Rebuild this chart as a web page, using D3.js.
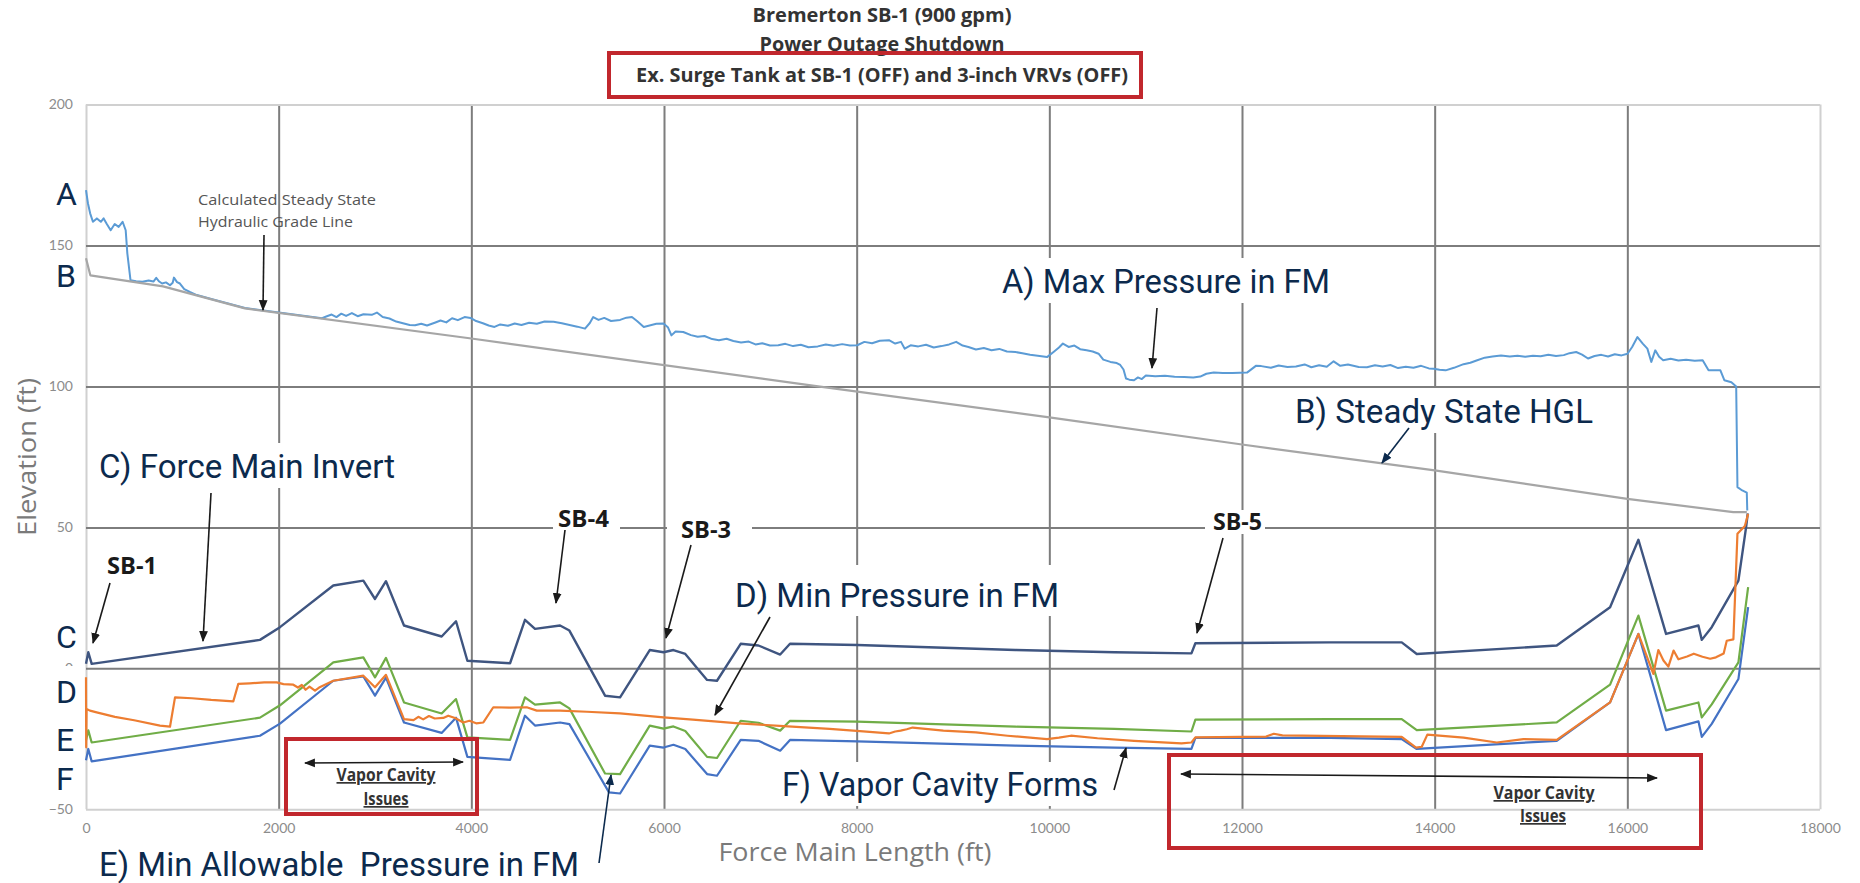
<!DOCTYPE html>
<html>
<head>
<meta charset="utf-8">
<script src="https://cdn.jsdelivr.net/npm/d3@7"></script>
<style>
  body { margin: 0; background: #fff; }
  svg { display: block; }
</style>
</head>
<body>
<svg></svg>
<script>
const width = 1860;
const height = 883;

// axis ticks
const xTicks = [0, 2000, 4000, 6000, 8000, 10000, 12000, 14000, 16000, 18000];
const yTicks = [-50, 0, 50, 100, 150, 200];

// [force main length (ft), elevation (ft)]
const maxPressure = [
  [0,169.6],[20,165],[43,161.4],[72,158.4],[113,159.6],[154,158.4],[183,159.6],[216,157.6],[256,155.4],
  [298,157.6],[339,156.6],[380,158.4],[412,155.4],[429,147.2],[462,137.7],[520,137.3],[585,137.1],[650,137.6],
  [700,137.2],[729,138.5],[760,137.2],[790,136.5],[830,136.9],[872,135.9],[900,136.8],[913,138.6],[945,137],
  [975,136.5],[1020,134.5],[1077,133.5],[1150,132.4],[1300,131],[1650,127.8],[2000,126.2],[2450,124.2],
  [2494,124.8],[2550,125.5],[2600,124.6],[2650,125.8],[2700,125],[2760,126],[2820,124.9],[2880,125.6],
  [2966,125.4],[3020,126.2],[3080,124.6],[3150,124.1],[3220,123],[3300,122.3],[3360,121.8],[3416,121.7],
  [3480,122.2],[3540,121.6],[3620,122.6],[3680,123.4],[3740,122.7],[3800,124.2],[3860,123.5],[3930,124.6],
  [3992,124.3],[4050,123.2],[4120,122.4],[4180,121.6],[4240,121.1],[4300,122],[4380,121.5],[4450,122.3],
  [4520,121.8],[4600,122.6],[4680,122.2],[4760,123],[4854,122.9],[4940,122.4],[5020,121.8],[5100,121.2],
  [5180,120.5],[5230,122.5],[5265,124.6],[5320,123.6],[5380,124.3],[5450,123.2],[5544,123.6],[5610,124.4],
  [5667,124.6],[5720,123.2],[5790,121.1],[5850,121.6],[5920,122.2],[5995,122.3],[6040,121],[6077,118.1],
  [6120,119.5],[6200,119.3],[6280,118.2],[6350,117.6],[6420,117.9],[6500,116.8],[6570,116.4],[6650,116.9],
  [6720,116.1],[6800,115.6],[6880,115.9],[6950,114.9],[7020,115.3],[7100,114.5],[7186,114.6],[7260,115.1],
  [7340,114.3],[7420,114.8],[7500,113.9],[7596,114.2],[7680,114.9],[7760,114.4],[7850,115],[7930,114.5],
  [8006,114.6],[8080,115.8],[8160,115.3],[8240,116.2],[8335,116.4],[8400,115.2],[8460,115.8],[8499,113.4],
  [8560,114.6],[8640,114.2],[8720,114.8],[8800,113.8],[8880,114.3],[8960,114.9],[9033,115.8],[9100,114.5],
  [9160,114],[9238,113.1],[9320,113.6],[9400,112.8],[9480,113.3],[9560,112.4],[9648,112.2],[9720,111.8],
  [9800,111.2],[9880,110.9],[9976,110.4],[10050,112.4],[10100,113.8],[10141,115.2],[10200,114],[10260,114.5],
  [10320,113.2],[10387,112.8],[10450,112.4],[10511,111.6],[10560,109.5],[10634,108.7],[10700,108.3],
  [10736,107.6],[10770,106],[10796,102.8],[10830,102.4],[10879,102.2],[10920,103.2],[10960,102.6],
  [11002,103.9],[11100,103.6],[11200,103.8],[11300,103.4],[11400,103.3],[11494,103.2],[11567,103.5],
  [11630,104.5],[11706,104.9],[11800,104.8],[11900,104.8],[12052,104.9],[12144,107.3],[12200,107.2],
  [12300,106.6],[12380,107.4],[12472,106.9],[12560,107.1],[12650,107.8],[12720,106.8],[12800,107.5],
  [12880,107],[12951,108.9],[13020,107.3],[13100,107.8],[13211,106.9],[13297,106.8],[13380,107.5],
  [13460,107.1],[13540,107.6],[13620,106.5],[13700,107],[13780,106.6],[13860,107.3],[13940,106.4],
  [13990,106.3],[14050,105.9],[14114,105.7],[14200,106.6],[14300,107.9],[14370,108.4],[14442,109.3],
  [14520,110.2],[14600,110.6],[14689,111],[14780,110.6],[14860,110.9],[14940,110.5],[15020,110.9],
  [15100,110.7],[15180,111.2],[15260,110.8],[15340,111.1],[15400,111.8],[15469,112.2],[15530,111.3],
  [15592,109.9],[15660,110.8],[15730,111.2],[15800,110.6],[15870,111.4],[15940,111],[16002,111.6],
  [16050,114],[16105,117.5],[16160,115.2],[16208,113.4],[16249,108.7],[16290,112.8],[16330,110.5],
  [16372,109.3],[16450,109.8],[16530,109.2],[16610,109.5],[16700,109.1],[16782,109.3],[16843,105.7],
  [16966,105.7],[17007,102.2],[17080,101.5],[17130,100],[17143,64.3],[17193,63.1],[17240,62.3],[17245,56]
];

const steadyHGL = [
  [0,145.5],[45,139.4],[800,135.5],[1650,127.7],[4000,117],[7600,100],[10000,89],[12000,79.4],
  [14000,70.2],[16000,60.1],[17100,55.4],[17240,55.4]
];

const invert = [
  [0,1.6],[24,5.7],[59,1.6],[1806,10.1],[2014,14.6],[2567,29.4],[2879,31.1],[3000,24.6],[3114,30.9],
  [3301,15.2],[3692,11.3],[3841,16.7],[3959,2.7],[4402,1.8],[4557,17.2],[4661,14],[4921,15.2],[5018,13.4],
  [5388,-9.7],[5544,-10.3],[5852,6.5],[5995,5.7],[6098,6.5],[6221,5.1],[6447,-4.1],[6550,-4.4],[6796,8.7],
  [6980,8.1],[7206,4.9],[7308,8.7],[8006,8.3],[9648,6.5],[10675,5.7],[11475,5.3],[11516,8.9],[12914,9.2],
  [13658,9.2],[13814,5.1],[15267,8.1],[15821,21.7],[16115,45.6],[16402,12.2],[16738,15.2],[16773,10.1],
  [16876,14.6],[17153,31.1],[17233,50.1],[17250,55]
];

const minPressure = [
  [0,-3.2],[2,-28],[6,-14.4],[41,-15],[111,-15.6],[300,-17.2],[500,-18.4],[768,-20.3],[872,-20.7],
  [924,-10.3],[1100,-10.6],[1300,-11.2],[1529,-11.7],[1581,-5.5],[1700,-5.3],[1850,-5],[1980,-5],[2050,-5.6],
  [2152,-5.8],[2200,-6.8],[2240,-5.9],[2280,-7.6],[2320,-6.5],[2377,-7.9],[2420,-6.8],[2567,-4.4],[2879,-2.6],
  [3000,-6.7],[3114,-2.3],[3301,-18],[3400,-18.4],[3450,-17.2],[3500,-18.1],[3560,-16.9],[3620,-17.8],
  [3709,-17.6],[3760,-16.8],[3831,-17.6],[3917,-19.2],[3980,-18.6],[4050,-19.5],[4125,-19.2],[4228,-13.8],
  [4400,-13.9],[4575,-13.8],[4679,-15],[4921,-15],[5200,-15.4],[5544,-16],[5995,-17.4],[6300,-18.2],
  [6775,-19.5],[7200,-20.4],[7719,-21.5],[8000,-22.2],[8335,-23.1],[8400,-22.4],[8457,-22.1],[8520,-21.6],
  [8581,-21],[8900,-22.1],[9238,-22.7],[9566,-23.9],[9976,-25.1],[10100,-24.6],[10223,-23.9],[10500,-24.8],
  [10879,-25.7],[11372,-26.6],[11475,-26.3],[11516,-24.5],[11980,-24.3],[12250,-24.2],[12330,-23.2],
  [12420,-23.8],[13658,-24.3],[13807,-28.1],[13866,-27.8],[13924,-23.5],[14300,-24.6],[14645,-26.3],
  [14921,-25.1],[15267,-25.4],[15821,-12.1],[16115,12.2],[16270,-2],[16322,6.5],[16375,2.8],[16426,0.6],
  [16480,6.3],[16530,3.2],[16620,4.2],[16690,5.2],[16780,4.1],[16860,3.4],[16920,3.9],[17000,5.3],
  [17032,9.8],[17101,10.3],[17143,47.7],[17220,50.5],[17254,54.8]
];

const minAllowable = [
  [0,-25.5],[24,-22],[59,-26.3],[1806,-17.5],[2014,-13.1],[2567,2.1],[2879,3.9],[3000,-3.2],[3114,3.7],
  [3301,-12.1],[3692,-16],[3841,-10.9],[3959,-24.5],[4402,-25.4],[4557,-10.3],[4661,-12.9],[4921,-12.1],
  [5018,-14.2],[5388,-37.3],[5544,-37.5],[5852,-20.3],[5995,-21.4],[6098,-20.6],[6221,-22.2],[6447,-31.4],
  [6550,-31.8],[6796,-18.6],[6980,-19.3],[7206,-22.1],[7308,-18.6],[8006,-18.9],[9648,-20.7],[10675,-21.5],
  [11475,-22.4],[11516,-18.2],[12914,-18],[13658,-18],[13814,-21.9],[15267,-19.2],[15821,-5.8],[16115,18.7],
  [16402,-15],[16738,-12.1],[16773,-17.4],[16876,-12.8],[17153,2.1],[17254,28.8]
];

const vaporCavity = [
  [0,-32.6],[24,-28.6],[59,-33],[1806,-23.9],[2014,-19.6],[2567,-4.4],[2879,-2.9],[3000,-9.7],[3114,-3.3],
  [3301,-19.2],[3692,-22.9],[3841,-17.5],[3959,-31.4],[4402,-32.5],[4557,-16.8],[4661,-20.3],[4921,-19.2],
  [5018,-19.8],[5429,-44],[5544,-44.4],[5852,-27.4],[5995,-28.1],[6098,-27.1],[6221,-28.6],[6447,-37.5],
  [6550,-38.1],[6796,-25.4],[6980,-25.7],[7206,-29.2],[7308,-25.4],[8006,-25.9],[9648,-27.4],[10675,-28.1],
  [11475,-28.6],[11516,-24.7],[12914,-24.7],[13658,-25.1],[13814,-28.6],[15267,-25.7],[15821,-12.1],
  [16115,12.2],[16402,-21.9],[16738,-18.8],[16773,-24.3],[16876,-19.7],[17153,-3.8],[17254,21.7]
];

const titleLines = ['Bremerton SB-1 (900 gpm)', 'Power Outage Shutdown', 'Ex. Surge Tank at SB-1 (OFF) and 3-inch VRVs (OFF)'];

const navy = '#0c2a4d';
const svg = d3.select('svg').attr('width', width).attr('height', height);

const x = d3.scaleLinear().domain([0, 18000]).range([86, 1820]);
const y = d3.scaleLinear().domain([-50, 200]).range([809.3, 104.5]);

const createDefs = () => {
  const defs = svg.append('defs');
  [['arrBlack', '#1a1a1a'], ['arrNavy', navy]].forEach(([id, c]) => {
    defs.append('marker')
      .attr('id', id)
      .attr('viewBox', '0 0 10 10')
      .attr('refX', 9).attr('refY', 5)
      .attr('markerWidth', 11).attr('markerHeight', 11)
      .attr('markerUnits', 'userSpaceOnUse')
      .attr('orient', 'auto-start-reverse')
      .append('path').attr('d', 'M0,1L10,5L0,9Z').attr('fill', c);
  });
}

const createAxis = () => {
  const plotH = y(-50) - y(200);
  const plotW = x(18000) - x(0);

  const xAxis = d3.axisBottom(x).tickValues(xTicks).tickSize(-plotH).tickPadding(14).tickFormat(d3.format('d'));
  const yAxis = d3.axisLeft(y).tickValues(yTicks).tickSize(-plotW).tickPadding(13);

  svg.append('g')
    .attr('transform', 'translate(0,' + y(-50) + ')')
    .call(xAxis)
    .call(g => g.select('.domain').remove())
    .call(g => g.selectAll('.tick line')
      .attr('stroke', d => (d === 0 || d === 18000) ? '#d0d0d0' : '#7d7d7d')
      .attr('stroke-width', 2))
    .call(g => g.selectAll('.tick text').attr('fill', '#8c8c8c').style('font', '14px Lato'));

  svg.append('g')
    .attr('transform', 'translate(' + x(0) + ',0)')
    .call(yAxis)
    .call(g => g.select('.domain').remove())
    .call(g => g.selectAll('.tick line')
      .attr('stroke', d => (d === -50 || d === 200) ? '#d0d0d0' : '#7d7d7d')
      .attr('stroke-width', 2))
    .call(g => g.selectAll('.tick text').attr('fill', '#8c8c8c').style('font', '14px Lato'));

  svg.append('text')
    .attr('transform', 'translate(36,457) rotate(-90)')
    .attr('text-anchor', 'middle')
    .attr('fill', '#7a7a7a')
    .attr('textLength', 158)
    .attr('lengthAdjust', 'spacingAndGlyphs')
    .style('font', '26px "Open Sans"')
    .text('Elevation (ft)');

  svg.append('text')
    .attr('x', 855).attr('y', 861)
    .attr('text-anchor', 'middle')
    .attr('fill', '#7a7a7a')
    .attr('textLength', 273)
    .attr('lengthAdjust', 'spacingAndGlyphs')
    .style('font', '26px "Open Sans"')
    .text('Force Main Length (ft)');
}

// white patches the labels sit on (they cut the grid lines)
const createLabelBacks = () => {
  const backs = [
    [995, 258, 340, 45], [1290, 388, 310, 45], [95, 443, 305, 45], [728, 565, 337, 51],
    [760, 762, 348, 44], [553, 505, 67, 26], [667, 518, 85, 23], [1205, 510, 60, 24], [50, 666, 32, 40]
  ];
  svg.append('g').selectAll('rect')
    .data(backs)
    .enter()
    .append('rect')
    .attr('x', d => d[0]).attr('y', d => d[1])
    .attr('width', d => d[2]).attr('height', d => d[3])
    .attr('fill', '#fff');
}

const createLines = () => {
  const line = d3.line().x(d => x(d[0])).y(d => y(d[1]));
  const series = [
    [maxPressure, '#5b9bd5', 2],
    [steadyHGL, '#a6a6a6', 2.2],
    [invert, '#3f5580', 2.4],
    [vaporCavity, '#4472c4', 2.2],
    [minAllowable, '#70ad47', 2.2],
    [minPressure, '#ed7d31', 2.2]
  ];
  svg.append('g').selectAll('path')
    .data(series)
    .enter()
    .append('path')
    .attr('d', d => line(d[0]))
    .attr('fill', 'none')
    .attr('stroke', d => d[1])
    .attr('stroke-width', d => d[2])
    .attr('stroke-linejoin', 'round');
}

const createTitle = () => {
  const t = svg.append('g')
    .attr('text-anchor', 'middle')
    .attr('fill', '#333')
    .style('font', 'bold 20px "Open Sans"');
  const lines = [[22, 259], [51, 245], [82, 492]];
  lines.forEach((l, i) => {
    t.append('text')
      .attr('x', 882).attr('y', l[0])
      .attr('textLength', l[1])
      .attr('lengthAdjust', 'spacingAndGlyphs')
      .text(titleLines[i]);
  });
}

const createBoxes = () => {
  const boxes = [[609, 53, 532, 44], [286, 739, 191, 75], [1169, 755, 532, 93]];
  svg.append('g').selectAll('rect')
    .data(boxes)
    .enter()
    .append('rect')
    .attr('x', d => d[0]).attr('y', d => d[1])
    .attr('width', d => d[2]).attr('height', d => d[3])
    .attr('fill', 'none')
    .attr('stroke', '#c1272d')
    .attr('stroke-width', 4);
}

const createAnnotations = () => {
  // letters at the left
  const letters = [['A', 205], ['B', 287], ['C', 648], ['D', 703], ['E', 751], ['F', 790]];
  svg.append('g').selectAll('text')
    .data(letters)
    .enter()
    .append('text')
    .attr('x', 56).attr('y', d => d[1])
    .attr('fill', navy)
    .style('font', '32px Roboto')
    .text(d => d[0]);

  const callouts = [
    ['A) Max Pressure in FM', 1002, 293, 328],
    ['B) Steady State HGL', 1295, 423, 298],
    ['C) Force Main Invert', 99, 478, 296],
    ['D) Min Pressure in FM', 735, 607, 324],
    ['E) Min Allowable  Pressure in FM', 99, 876, 480],
    ['F) Vapor Cavity Forms', 782, 796, 316]
  ];
  svg.append('g').selectAll('text')
    .data(callouts)
    .enter()
    .append('text')
    .attr('x', d => d[1]).attr('y', d => d[2])
    .attr('textLength', d => d[3])
    .attr('lengthAdjust', 'spacingAndGlyphs')
    .attr('fill', navy)
    .style('white-space', 'pre')
    .style('font', '34px Roboto')
    .text(d => d[0]);

  const stations = [['SB-1', 107, 574, 50], ['SB-4', 558, 527, 51], ['SB-3', 681, 538, 50], ['SB-5', 1213, 530, 49]];
  svg.append('g').selectAll('text')
    .data(stations)
    .enter()
    .append('text')
    .attr('x', d => d[1]).attr('y', d => d[2])
    .attr('textLength', d => d[3])
    .attr('lengthAdjust', 'spacingAndGlyphs')
    .attr('fill', '#1a1a1a')
    .style('font', 'bold 24px "Open Sans"')
    .text(d => d[0]);

  const calc = svg.append('g').attr('fill', '#555').style('font', '15px "Open Sans"');
  calc.append('text').attr('x', 198).attr('y', 205).attr('textLength', 178).attr('lengthAdjust', 'spacingAndGlyphs').text('Calculated Steady State');
  calc.append('text').attr('x', 198).attr('y', 227).attr('textLength', 155).attr('lengthAdjust', 'spacingAndGlyphs').text('Hydraulic Grade Line');

  // vapor cavity notes
  const notes = [['Vapor Cavity', 386, 781, 99], ['Issues', 386, 805, 45], ['Vapor Cavity', 1544, 799, 101], ['Issues', 1543, 822, 46]];
  svg.append('g').selectAll('text')
    .data(notes)
    .enter()
    .append('text')
    .attr('x', d => d[1]).attr('y', d => d[2])
    .attr('text-anchor', 'middle')
    .attr('textLength', d => d[3])
    .attr('lengthAdjust', 'spacingAndGlyphs')
    .attr('fill', '#333')
    .attr('text-decoration', 'underline')
    .style('font', 'bold 17px "Open Sans"')
    .text(d => d[0]);

  // arrows: x1, y1, x2, y2, marker, double headed
  const arrows = [
    [264, 235, 263, 310, 'arrBlack', false],
    [1157, 308, 1152, 368, 'arrBlack', false],
    [1409, 428, 1382, 463, 'arrNavy', false],
    [211, 493, 203, 641, 'arrBlack', false],
    [110, 583, 93, 643, 'arrBlack', false],
    [565, 530, 556, 603, 'arrBlack', false],
    [691, 545, 666, 638, 'arrBlack', false],
    [1223, 538, 1197, 633, 'arrBlack', false],
    [770, 617, 715, 715, 'arrBlack', false],
    [599, 863, 611, 775, 'arrNavy', false],
    [1114, 790, 1126, 748, 'arrBlack', false],
    [305, 763, 463, 762, 'arrBlack', true],
    [1181, 774, 1657, 778, 'arrBlack', true]
  ];
  svg.append('g').selectAll('line')
    .data(arrows)
    .enter()
    .append('line')
    .attr('x1', d => d[0]).attr('y1', d => d[1])
    .attr('x2', d => d[2]).attr('y2', d => d[3])
    .attr('stroke', d => d[4] === 'arrNavy' ? navy : '#1a1a1a')
    .attr('stroke-width', 1.6)
    .attr('marker-end', d => 'url(#' + d[4] + ')')
    .attr('marker-start', d => d[5] ? 'url(#' + d[4] + ')' : null);
}

createDefs();
createAxis();
createLabelBacks();
createLines();
createTitle();
createBoxes();
createAnnotations();
</script>
</body>
</html>
